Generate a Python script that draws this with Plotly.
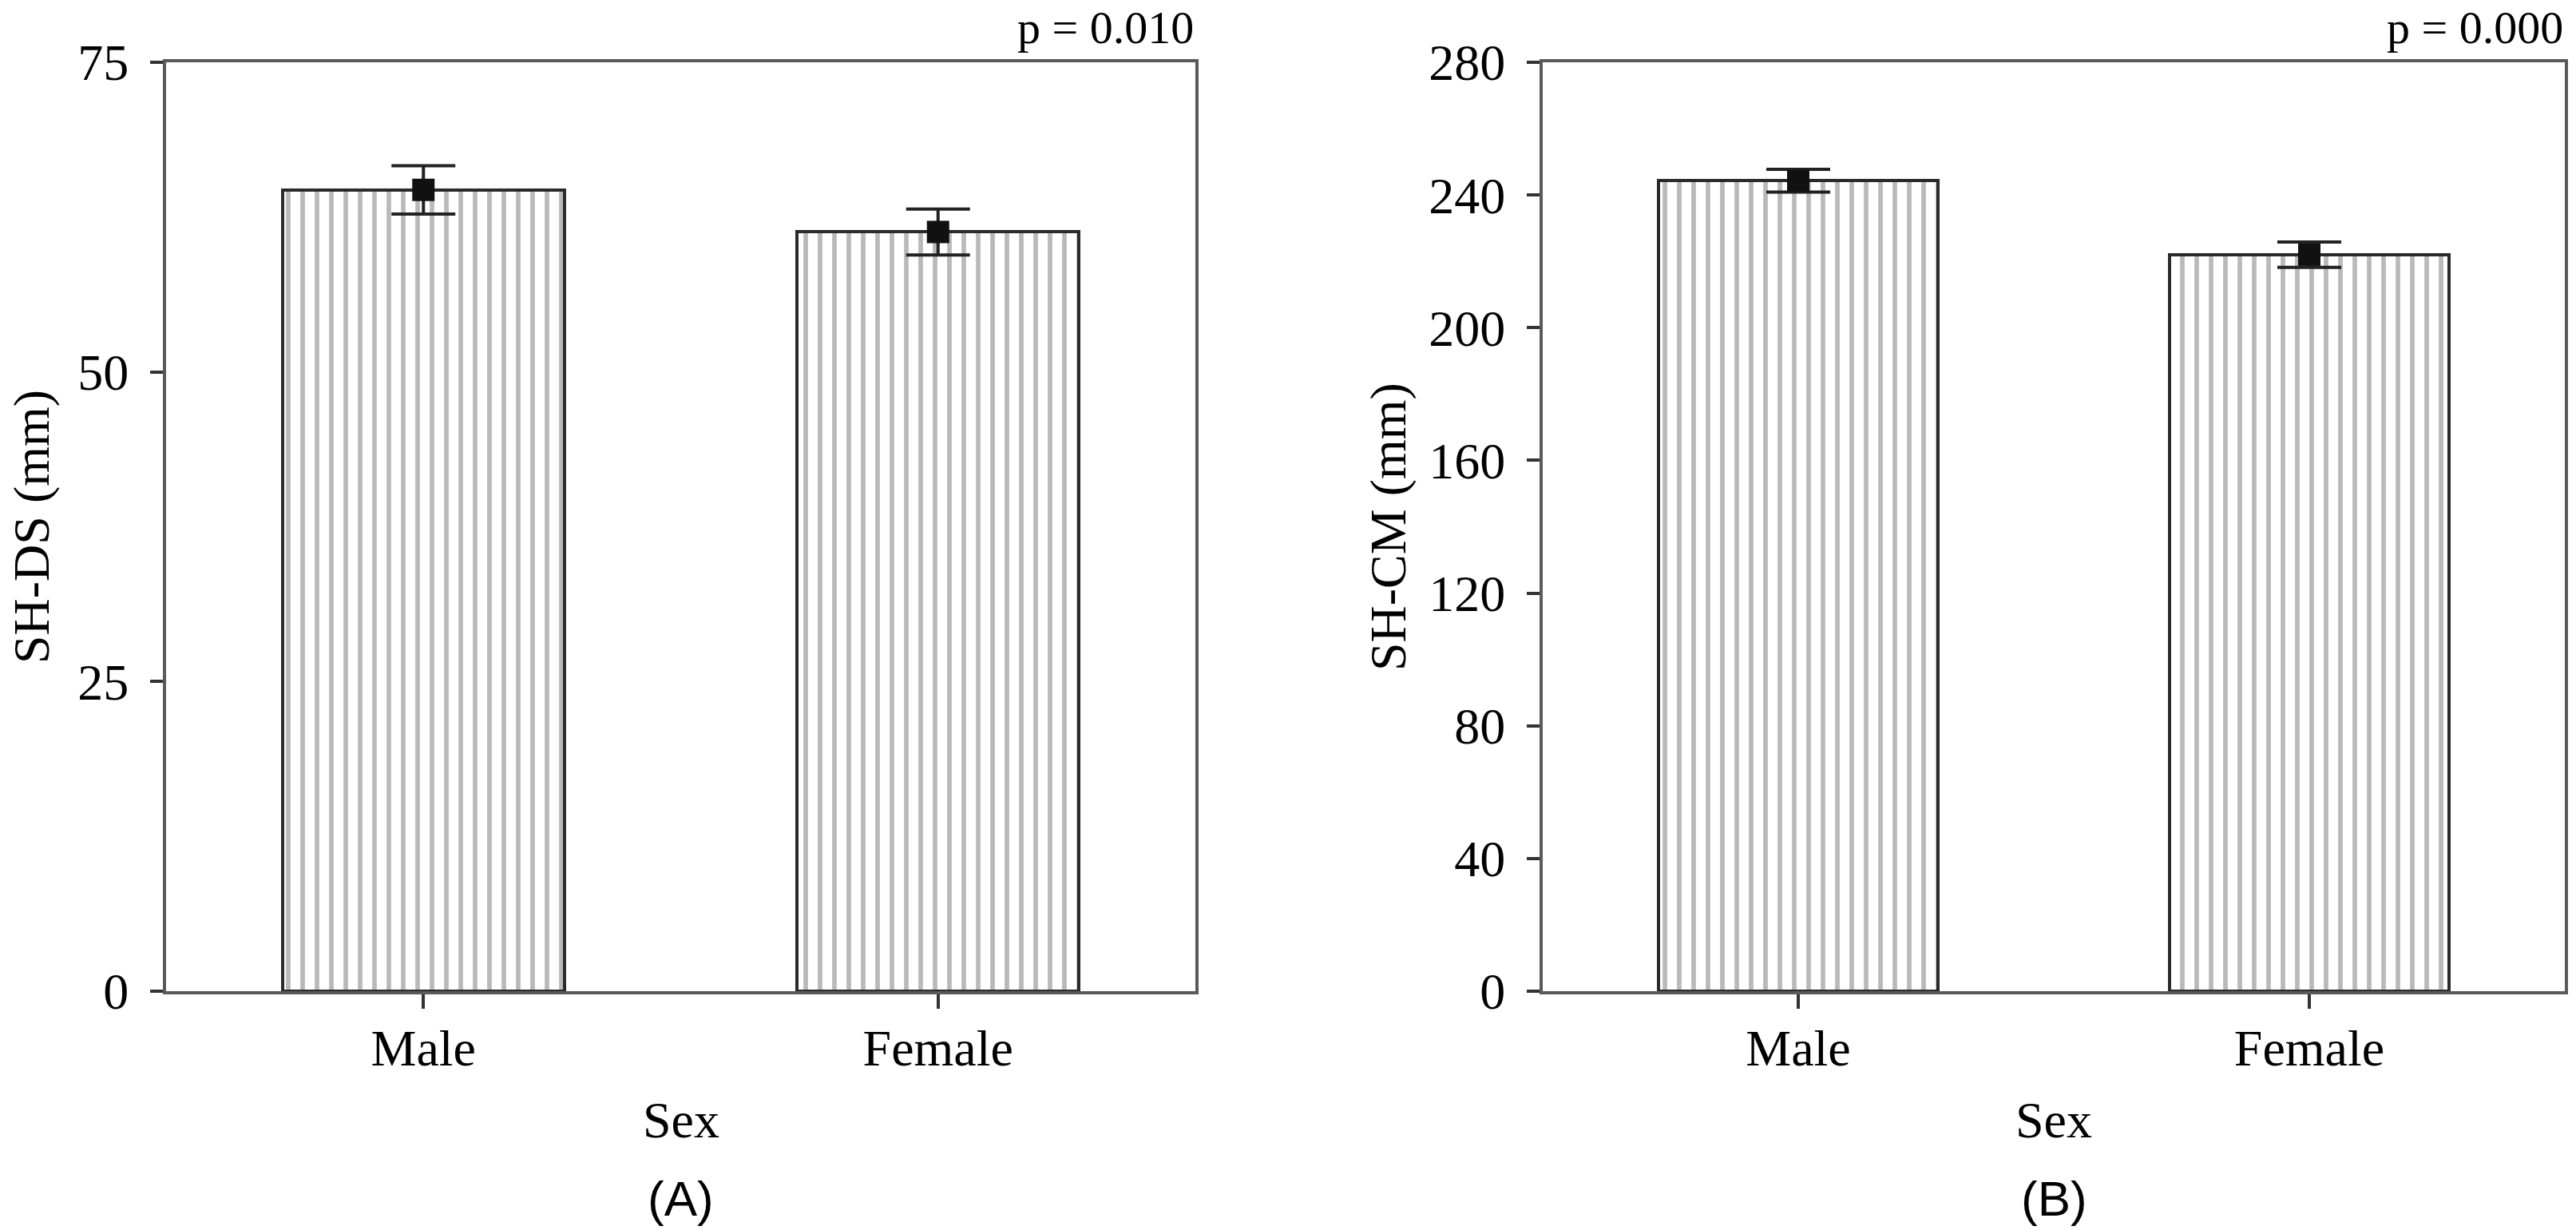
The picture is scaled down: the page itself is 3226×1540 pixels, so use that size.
import plotly.graph_objects as go

# ---- data ----
categories = ["Male", "Female"]
sh_ds_mean = [64.7, 61.3]
sh_ds_err = [1.95, 1.85]
sh_cm_mean = [244.3, 222.0]
sh_cm_err = [3.45, 3.8]
p_values = ["p = 0.010", "p = 0.000"]
panel_labels = ["(A)", "(B)"]
y_titles = ["SH-DS (mm)", "SH-CM (mm)"]
x_title = "Sex"
y_ticks_a = [0, 25, 50, 75]
y_ticks_b = [0, 40, 80, 120, 160, 200, 240, 280]

W, H = 3226, 1540
SERIF = "Liberation Serif"
SANS = "Liberation Sans"
FS = 64

# plot-area pixel positions (page coordinates; body margin removed below)
xa = (208, 1497)
xb = (1932, 3212)
y_top, y_bot = 78, 1241
dom_y = [(H - y_bot) / H, (H - y_top) / H]

fig = go.Figure()

panels = [
    ("x", "y", sh_ds_mean, sh_ds_err),
    ("x2", "y2", sh_cm_mean, sh_cm_err),
]

for xr, yr, mean, err in panels:
    fig.add_trace(go.Bar(
        x=categories, y=mean, xaxis=xr, yaxis=yr, width=0.547,
        marker=dict(color="white", line=dict(color="#2a2a2a", width=4),
                    pattern=dict(shape="|", fgcolor="#747474", bgcolor="white",
                                 size=18, solidity=0.32)),
        showlegend=False, hoverinfo="skip"))
    fig.add_trace(go.Scatter(
        x=categories, y=mean, xaxis=xr, yaxis=yr, mode="markers",
        marker=dict(symbol="square", size=28, color="#111111"),
        error_y=dict(type="data", array=err, visible=True, color="#222222",
                     thickness=4, width=40),
        showlegend=False))

axis_common = dict(showline=True, linecolor="#5a5a5a", linewidth=4, mirror=True,
                   showgrid=False, zeroline=False, automargin=False,
                   tickfont=dict(family=SERIF, size=FS, color="black"),
                   ticks="outside", tickcolor="#333333", tickwidth=4)

fig.update_layout(
    width=W, height=H, margin=dict(l=0, r=0, t=0, b=0, autoexpand=False),
    plot_bgcolor="white", paper_bgcolor="white", bargap=0,
    xaxis=dict(domain=[xa[0] / W, xa[1] / W], anchor="y", type="category",
               range=[-0.5, 1.5], ticklen=18, ticklabelstandoff=-6, **axis_common),
    yaxis=dict(domain=dom_y, anchor="x", range=[0, 75], tickvals=y_ticks_a,
               ticklen=16, ticklabelstandoff=14, **axis_common),
    xaxis2=dict(domain=[xb[0] / W, xb[1] / W], anchor="y2", type="category",
                range=[-0.5, 1.5], ticklen=18, ticklabelstandoff=-6, **axis_common),
    yaxis2=dict(domain=dom_y, anchor="x2", range=[0, 280], tickvals=y_ticks_b,
                ticklen=16, ticklabelstandoff=14, **axis_common),
)

annotations = []
ytitle_x = [39, 1738]
for i, (x0, x1) in enumerate([xa, xb]):
    cx = (x0 + x1) / 2 / W
    # p value
    annotations.append(dict(text=p_values[i], x=x1 / W, y=1 - 35 / H, xref="paper", yref="paper",
                            xanchor="right", yanchor="middle", showarrow=False,
                            font=dict(family=SERIF, size=58, color="black")))
    # x title
    annotations.append(dict(text=x_title, x=cx, y=1 - 1402 / H, xref="paper", yref="paper",
                            xanchor="center", yanchor="middle", showarrow=False,
                            font=dict(family=SERIF, size=FS, color="black")))
    # panel label
    annotations.append(dict(text=panel_labels[i], x=cx, y=1 - 1500 / H, xref="paper", yref="paper",
                            xanchor="center", yanchor="middle", showarrow=False,
                            font=dict(family=SANS, size=62, color="black")))
    # y title
    annotations.append(dict(text=y_titles[i], x=ytitle_x[i] / W, y=1 - 660 / H,
                            xref="paper", yref="paper", textangle=-90,
                            xanchor="center", yanchor="middle", showarrow=False,
                            font=dict(family=SERIF, size=FS, color="black")))
fig.update_layout(annotations=annotations)

fig.write_html("out.html", config={"displayModeBar": False},
               post_script="document.body.style.margin='0px';")
